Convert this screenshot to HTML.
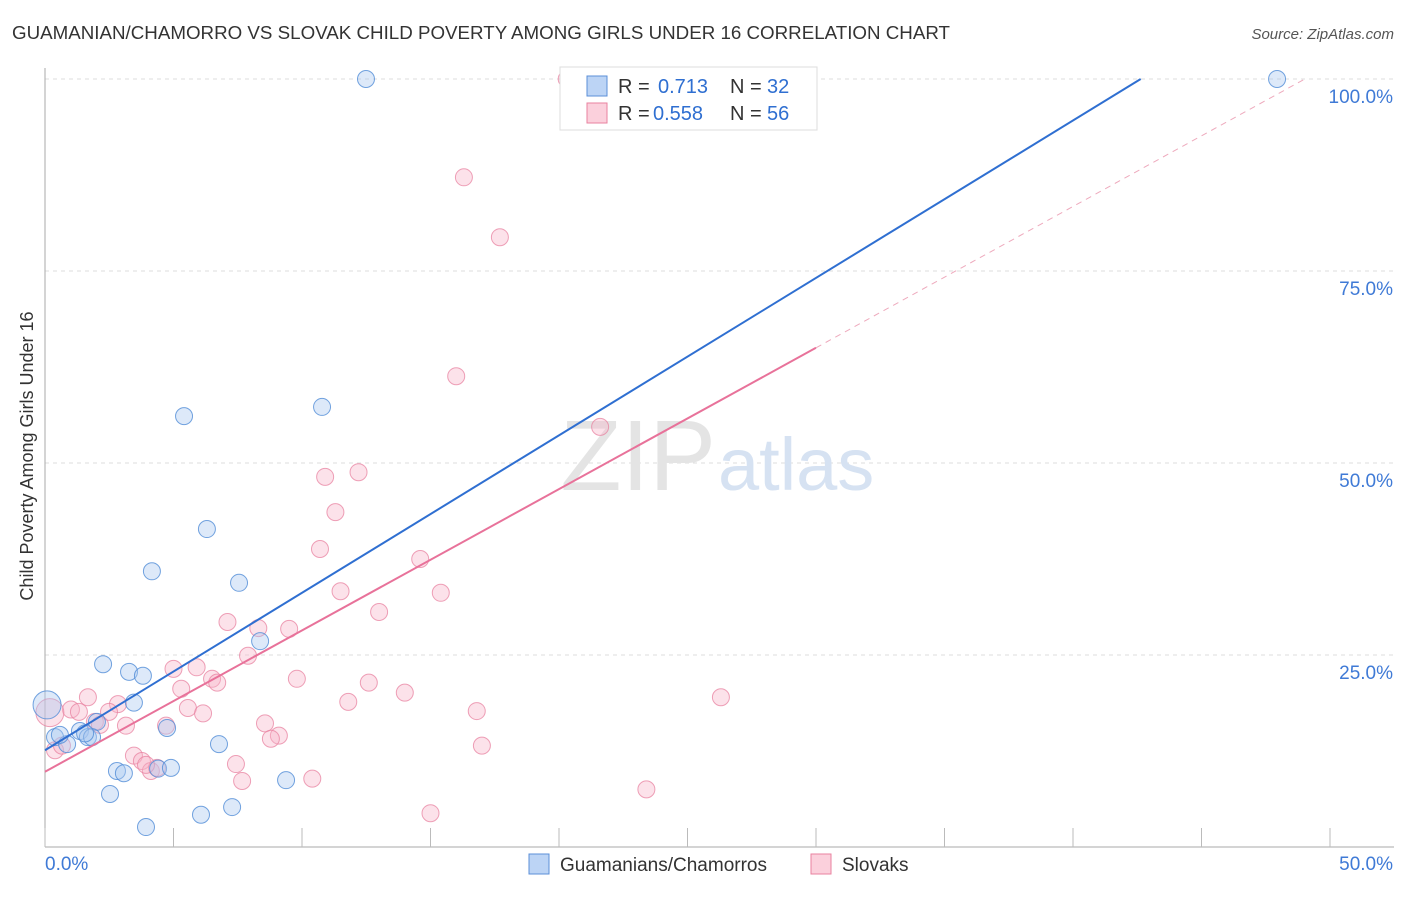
<!DOCTYPE html>
<html><head><meta charset="utf-8"><style>
body{margin:0;background:#fff;font-family:"Liberation Sans",sans-serif;}
svg text{font-family:"Liberation Sans",sans-serif;}
</style></head><body>
<svg width="1406" height="892" viewBox="0 0 1406 892">
<text x="12" y="39" font-size="18" fill="#333" textLength="938" lengthAdjust="spacingAndGlyphs">GUAMANIAN/CHAMORRO VS SLOVAK CHILD POVERTY AMONG GIRLS UNDER 16 CORRELATION CHART</text>
<text x="1394" y="39" font-size="15" fill="#555" font-style="italic" text-anchor="end">Source: ZipAtlas.com</text>
<text x="0" y="0" transform="translate(33,456) rotate(-90)" font-size="18" fill="#333" text-anchor="middle">Child Poverty Among Girls Under 16</text>
<g id="grid"></g>
<text x="716" y="490" font-size="100" fill="#e4e4e4" text-anchor="end" font-family="Liberation Serif">ZIP</text>
<text x="718" y="490" font-size="74" fill="#d6e2f2">atlas</text>
<g id="axes"></g>
<g id="pts"></g>
<g id="lines"></g>
<g>
<rect x="560" y="67" width="257" height="63" fill="#fff" stroke="#ddd"/>
<rect x="587" y="76" width="20" height="20" fill="#bcd4f5" stroke="#5b8fd8"/>
<text x="618" y="93" font-size="20" fill="#333">R = </text><text x="658" y="93" font-size="20" fill="#2f6fd1">0.713</text>
<text x="730" y="93" font-size="20" fill="#333">N = </text><text x="767" y="93" font-size="20" fill="#2f6fd1">32</text>
<rect x="587" y="103" width="20" height="20" fill="#fbd0dc" stroke="#e8829f"/>
<text x="618" y="120" font-size="20" fill="#333">R = </text><text x="653" y="120" font-size="20" fill="#2f6fd1">0.558</text>
<text x="730" y="120" font-size="20" fill="#333">N = </text><text x="767" y="120" font-size="20" fill="#2f6fd1">56</text>
</g>
<g>
<rect x="529" y="854" width="20" height="20" fill="#bcd4f5" stroke="#5b8fd8"/>
<text x="560" y="871" font-size="19" fill="#333">Guamanians/Chamorros</text>
<rect x="811" y="854" width="20" height="20" fill="#fbd0dc" stroke="#e8829f"/>
<text x="842" y="871" font-size="19" fill="#333">Slovaks</text>
</g>
</svg>
<script>
const xTicks=[0,5,10,15,20,25,30,35,40,45,50];
const yTicks=[25,50,75,100];
const yTickLabels=["25.0%","50.0%","75.0%","100.0%"];
const blueX=[12.49,47.94,5.41,10.78,6.30,4.16,7.55,8.37,2.26,3.27,3.81,3.46,0.08,2.02,4.75,1.36,0.39,1.67,0.86,6.77,2.80,3.07,4.40,4.90,2.53,9.38,7.28,6.07,3.93,1.83,0.58,1.56];
const blueY=[100,100,56.1,57.3,41.4,35.9,34.4,26.8,23.8,22.8,22.3,18.8,18.5,16.3,15.5,15.1,14.3,14.3,13.4,13.4,9.9,9.6,10.2,10.3,6.9,8.7,5.2,4.2,2.6,14.3,14.6,14.8];
const pinkX=[20.3,16.3,17.7,16.0,21.6,12.2,10.9,11.3,10.7,14.6,11.5,15.4,13.0,7.1,8.3,9.5,5.9,5.0,7.9,6.5,6.7,9.8,5.3,12.6,14.0,26.3,11.8,1.67,2.84,1.01,2.49,1.32,5.56,6.15,16.8,1.94,3.15,4.71,8.56,9.1,8.79,3.46,3.77,7.43,4.12,4.36,7.67,10.4,17.0,23.4,15.0,0.39,0.19,2.14,0.66,3.93];
const pinkY=[100,87.2,79.4,61.3,54.7,48.8,48.2,43.6,38.8,37.5,33.3,33.1,30.6,29.3,28.5,28.4,23.4,23.2,24.9,21.9,21.4,21.9,20.6,21.4,20.1,19.5,18.9,19.5,18.6,17.9,17.6,17.6,18.1,17.4,17.7,16.3,15.8,15.8,16.1,14.5,14.1,11.9,11.2,10.8,9.9,10.3,8.6,8.9,13.2,7.5,4.4,12.6,17.5,15.9,13.2,10.7];
const blueFit=[12.6,2.05], pinkFit=[9.8,1.84];
const X=v=>45+v*25.7, Y=v=>847-v*7.68;
const NS="http://www.w3.org/2000/svg";
function mk(tag,attrs,parent){const e=document.createElementNS(NS,tag);for(const k in attrs)e.setAttribute(k,attrs[k]);parent.appendChild(e);return e;}
const grid=document.getElementById('grid'),axes=document.getElementById('axes'),pts=document.getElementById('pts'),lines=document.getElementById('lines');
yTicks.forEach((t,i)=>{
 const l=mk('line',{x1:45,x2:1394,y1:Y(t),y2:Y(t),stroke:'#ddd','stroke-dasharray':'4,4'},grid);
 
 
 const tx=mk('text',{x:1393,y:Y(t)+24,'font-size':19,fill:'#3f7ad6','text-anchor':'end'},axes);
 tx.textContent=yTickLabels[i];
 
 
});
mk('line',{x1:45,x2:45,y1:68,y2:847,stroke:'#aaa'},axes);
mk('line',{x1:45,x2:1394,y1:847,y2:847,stroke:'#aaa'},axes);
xTicks.forEach(t=>{
 const l=mk('line',{x1:X(t),x2:X(t),y1:828,y2:847,stroke:'#bbb'},axes);
 
 
});
const t0=mk('text',{x:45,y:870,'font-size':19,fill:'#3f7ad6'},axes);t0.textContent='0.0%';


const t1=mk('text',{x:1393,y:870,'font-size':19,fill:'#3f7ad6','text-anchor':'end'},axes);t1.textContent='50.0%';


pinkX.forEach((x,i)=>{
 const c=mk('circle',{cx:X(x),cy:Y(pinkY[i]),r:i==52?14:8.5,fill:'rgba(248,180,200,0.38)',stroke:'rgba(232,130,160,0.75)','stroke-width':1},pts);
 
 
});
blueX.forEach((x,i)=>{
 const c=mk('circle',{cx:X(x),cy:Y(blueY[i]),r:i==12?14:8.5,fill:'rgba(170,200,240,0.4)',stroke:'rgba(80,140,215,0.8)','stroke-width':1},pts);
 
 
});
const bxEnd=(100-blueFit[0])/blueFit[1];
const bl=mk('line',{x1:X(0),y1:Y(blueFit[0]),x2:X(bxEnd),y2:Y(100),stroke:'#2f6fd1','stroke-width':2},lines);


const pl=mk('line',{x1:X(0),y1:Y(pinkFit[0]),x2:X(30),y2:Y(pinkFit[0]+30*pinkFit[1]),stroke:'#e8729a','stroke-width':2},lines);


const pxEnd=(100-pinkFit[0])/pinkFit[1];
const pd=mk('line',{x1:X(30),y1:Y(pinkFit[0]+30*pinkFit[1]),x2:X(pxEnd),y2:Y(100),stroke:'#eeaabd','stroke-width':1,'stroke-dasharray':'6,5'},lines);


</script>
</body></html>
